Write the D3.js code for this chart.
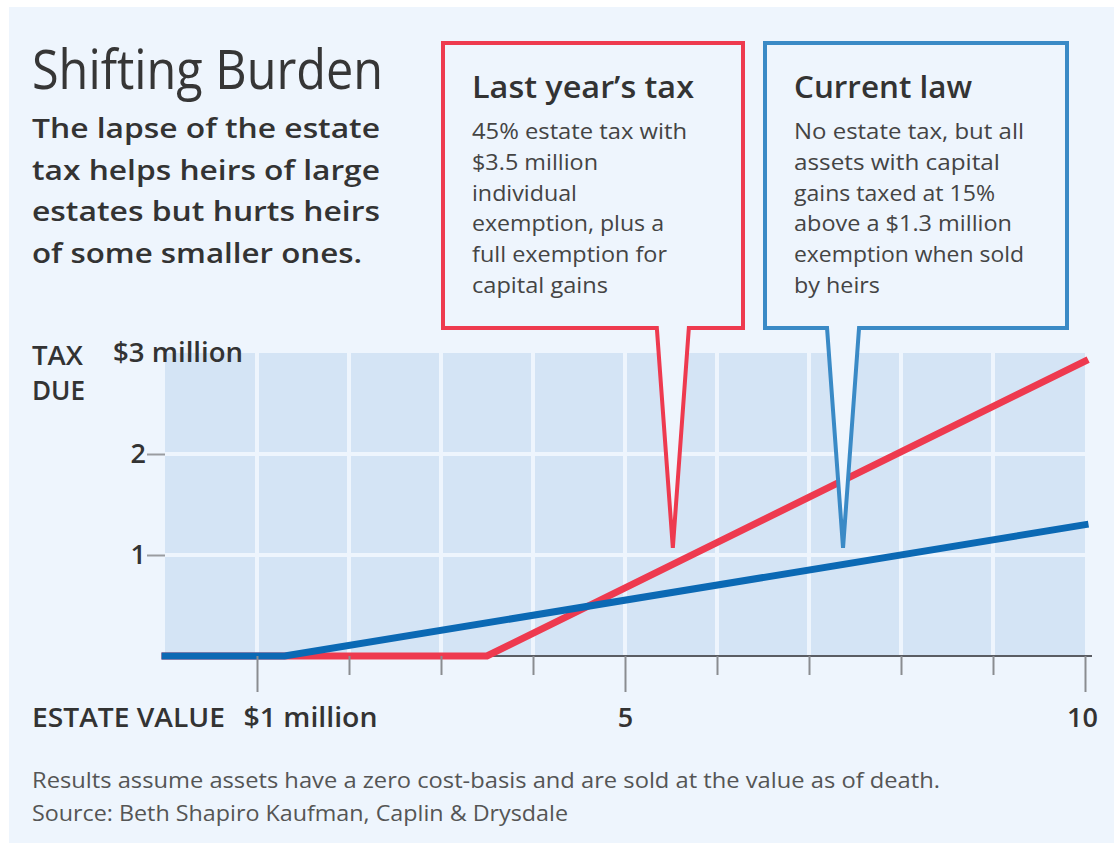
<!DOCTYPE html>
<html>
<head>
<meta charset="utf-8">
<script src="https://cdn.jsdelivr.net/npm/d3@7"></script>
<style>
  body { margin: 0; background: #fff; }
  svg text { font-family: "Open Sans", "Noto Sans", sans-serif; }
</style>
</head>
<body>
<div id="chart"></div>
<script>
// ---------- data ----------
const title = "Shifting Burden";
const subtitleLines = [
  "The lapse of the estate",
  "tax helps heirs of large",
  "estates but hurts heirs",
  "of some smaller ones."
];

// estate value ($ million) -> tax due ($ million)
const lastYearX = [0, 3.5, 10];
const lastYearTax = [0, 0, 2.92];
const currentLawX = [0, 1.3, 10];
const currentLawTax = [0, 0, 1.3];

const xTicks = [1, 2, 3, 4, 5, 6, 7, 8, 9, 10];
const xMajorTicks = [1, 5, 10];
const xTickLabels = ["$1 million", "", "", "", "5", "", "", "", "", "10"];
const yTicks = [1, 2, 3];
const yTickLabels = ["1", "2", "$3 million"];

const lastYearTitle = "Last year\u2019s tax";
const lastYearNote = [
  "45% estate tax with",
  "$3.5 million",
  "individual",
  "exemption, plus a",
  "full exemption for",
  "capital gains"
];
const currentLawTitle = "Current law";
const currentLawNote = [
  "No estate tax, but all",
  "assets with capital",
  "gains taxed at 15%",
  "above a $1.3 million",
  "exemption when sold",
  "by heirs"
];
// where each callout points (estate value, tax due)
const lastYearPointer = [5.52, 1.07];
const currentLawPointer = [7.37, 1.07];

const footnotes = [
  "Results assume assets have a zero cost-basis and are sold at the value as of death.",
  "Source: Beth Shapiro Kaufman, Caplin & Drysdale"
];

// ---------- layout ----------
const W = 1114, H = 843;
const red = "#ee3a4f", blue = "#0b69b4", blueBox = "#3a8ac6";
const pageBg = "#eef5fd", plotBg = "#d4e4f5";

// measured line widths, used to squeeze/stretch text to the original
const fitW = {
  "Shifting Burden": 351,
  "The lapse of the estate": 348,
  "tax helps heirs of large": 348,
  "estates but hurts heirs": 348,
  "of some smaller ones.": 330,
  "Last year\u2019s tax": 222,
  "45% estate tax with": 215,
  "$3.5 million": 126,
  "individual": 105,
  "exemption, plus a": 192,
  "full exemption for": 195,
  "capital gains": 136,
  "Current law": 178,
  "No estate tax, but all": 230,
  "assets with capital": 206,
  "gains taxed at 15%": 201,
  "above a $1.3 million": 218,
  "exemption when sold": 230,
  "by heirs": 86,
  "TAX": 51,
  "DUE": 53,
  "$3 million": 130,
  "ESTATE VALUE": 193,
  "$1 million": 134,
  "Results assume assets have a zero cost-basis and are sold at the value as of death.": 908,
  "Source: Beth Shapiro Kaufman, Caplin & Drysdale": 536
};
function fit(sel) {
  sel.each(function () {
    const w = fitW[this.textContent];
    if (w) d3.select(this).attr("textLength", w).attr("lengthAdjust", "spacingAndGlyphs");
  });
  return sel;
}

const svg = d3.select("#chart").append("svg")
  .attr("width", W)
  .attr("height", H);

svg.append("rect")
  .attr("x", 9).attr("y", 7)
  .attr("width", W - 9).attr("height", H - 7)
  .attr("fill", pageBg);

const x = d3.scaleLinear().domain([0, 10]).range([165, 1085]);
const y = d3.scaleLinear().domain([0, 3]).range([656, 353]);

// ---------- plot area ----------
svg.append("rect")
  .attr("x", x(0)).attr("y", y(3))
  .attr("width", x(10) - x(0)).attr("height", y(0) - y(3))
  .attr("fill", plotBg);

svg.append("g").selectAll("line")
  .data(xTicks.slice(0, -1))
  .join("line")
  .attr("x1", d => x(d)).attr("x2", d => x(d))
  .attr("y1", y(3)).attr("y2", y(0))
  .attr("stroke", pageBg).attr("stroke-width", 4);

svg.append("g").selectAll("line")
  .data(yTicks.slice(0, -1))
  .join("line")
  .attr("x1", x(0)).attr("x2", x(10))
  .attr("y1", d => y(d)).attr("y2", d => y(d))
  .attr("stroke", pageBg).attr("stroke-width", 4);

svg.append("line")
  .attr("x1", x(0)).attr("x2", x(10) + 7)
  .attr("y1", y(0)).attr("y2", y(0))
  .attr("stroke", "#5a5d63").attr("stroke-width", 2);

// ---------- lines ----------
const line = d3.line().x(d => x(d[0])).y(d => y(d[1]));
svg.append("path")
  .datum(d3.zip(lastYearX, lastYearTax))
  .attr("d", line)
  .attr("fill", "none")
  .attr("stroke", red).attr("stroke-width", 7)
  .attr("stroke-linecap", "square");
svg.append("path")
  .datum(d3.zip(currentLawX, currentLawTax))
  .attr("d", line)
  .attr("fill", "none")
  .attr("stroke", blue).attr("stroke-width", 7)
  .attr("stroke-linecap", "square");

// ---------- axes ----------
const xAxis = svg.append("g")
  .attr("transform", `translate(0,${y(0)})`)
  .call(d3.axisBottom(x).tickValues(xTicks).tickSize(19)
    .tickFormat((d, i) => xTickLabels[i]));
xAxis.select(".domain").remove();
xAxis.selectAll(".tick line")
  .attr("stroke", "#8a8c90").attr("stroke-width", 2)
  .attr("y2", d => xMajorTicks.includes(d) ? 36 : 19);
xAxis.selectAll(".tick text")
  .attr("y", 71).attr("dy", 0)
  .attr("fill", "#333")
  .style("font-size", "27px").style("font-weight", 600)
  .attr("text-anchor", d => d === 1 ? "start" : "middle")
  .attr("dx", d => d === 1 ? -14 : d === 10 ? -3 : 0)
  .call(fit);

const yAxis = svg.append("g")
  .attr("transform", `translate(${x(0)},0)`)
  .call(d3.axisLeft(y).tickValues(yTicks).tickSize(18).tickPadding(1)
    .tickFormat((d, i) => yTickLabels[i]));
yAxis.select(".domain").remove();
yAxis.selectAll(".tick line")
  .attr("stroke", "#9a9ca0").attr("stroke-width", 2)
  .attr("opacity", d => d === 3 ? 0 : 1);
yAxis.selectAll(".tick text")
  .attr("fill", "#333")
  .style("font-size", "27px").style("font-weight", 600)
  .attr("text-anchor", d => d === 3 ? "start" : "end")
  .attr("x", d => d === 3 ? -52 : -19)
  .call(fit);

svg.append("g").selectAll("text")
  .data(["TAX", "DUE"])
  .join("text")
  .attr("x", 32).attr("y", (d, i) => 365 + i * 35)
  .attr("fill", "#333")
  .style("font-size", "27px").style("font-weight", 600)
  .text(d => d)
  .call(fit);

svg.append("text")
  .attr("x", 32).attr("y", 727)
  .attr("fill", "#333")
  .style("font-size", "27px").style("font-weight", 600)
  .text("ESTATE VALUE")
  .call(fit);

// ---------- callouts ----------
function callout(box, tip, color, head, lines) {
  const tx = x(tip[0]), ty = y(tip[1]);
  const p = d3.path();
  p.moveTo(box.x0, box.y0);
  p.lineTo(box.x1, box.y0);
  p.lineTo(box.x1, box.y1);
  p.lineTo(tx + 16, box.y1);
  p.lineTo(tx, ty);
  p.lineTo(tx - 16, box.y1);
  p.lineTo(box.x0, box.y1);
  p.closePath();
  svg.append("path")
    .attr("d", p.toString())
    .attr("fill", pageBg)
    .attr("stroke", color).attr("stroke-width", 4)
    .attr("stroke-linejoin", "miter").attr("stroke-miterlimit", 2);

  const tx0 = box.x0 + 29;
  svg.append("text")
    .attr("x", tx0).attr("y", 98)
    .attr("fill", "#333")
    .style("font-size", "31px").style("font-weight", 600)
    .text(head)
    .call(fit);
  svg.append("g").selectAll("text")
    .data(lines)
    .join("text")
    .attr("x", tx0).attr("y", (d, i) => 139 + i * 30.8)
    .attr("fill", "#444")
    .style("font-size", "22px")
    .text(d => d)
    .call(fit);
}
callout({ x0: 443, x1: 743, y0: 43, y1: 328 }, lastYearPointer, red, lastYearTitle, lastYearNote);
callout({ x0: 765, x1: 1067, y0: 43, y1: 328 }, currentLawPointer, blueBox, currentLawTitle, currentLawNote);

// ---------- titles ----------
svg.append("text")
  .attr("x", 32).attr("y", 89)
  .attr("fill", "#363636")
  .style("font-size", "54px")
  .text(title)
  .call(fit);

svg.append("g").selectAll("text")
  .data(subtitleLines)
  .join("text")
  .attr("x", 32).attr("y", (d, i) => 138 + i * 41.7)
  .attr("fill", "#333")
  .style("font-size", "27px").style("font-weight", 600)
  .text(d => d)
  .call(fit);

svg.append("g").selectAll("text")
  .data(footnotes)
  .join("text")
  .attr("x", 32).attr("y", (d, i) => 788 + i * 33)
  .attr("fill", "#555")
  .style("font-size", "22px")
  .text(d => d)
  .call(fit);
</script>
</body>
</html>
